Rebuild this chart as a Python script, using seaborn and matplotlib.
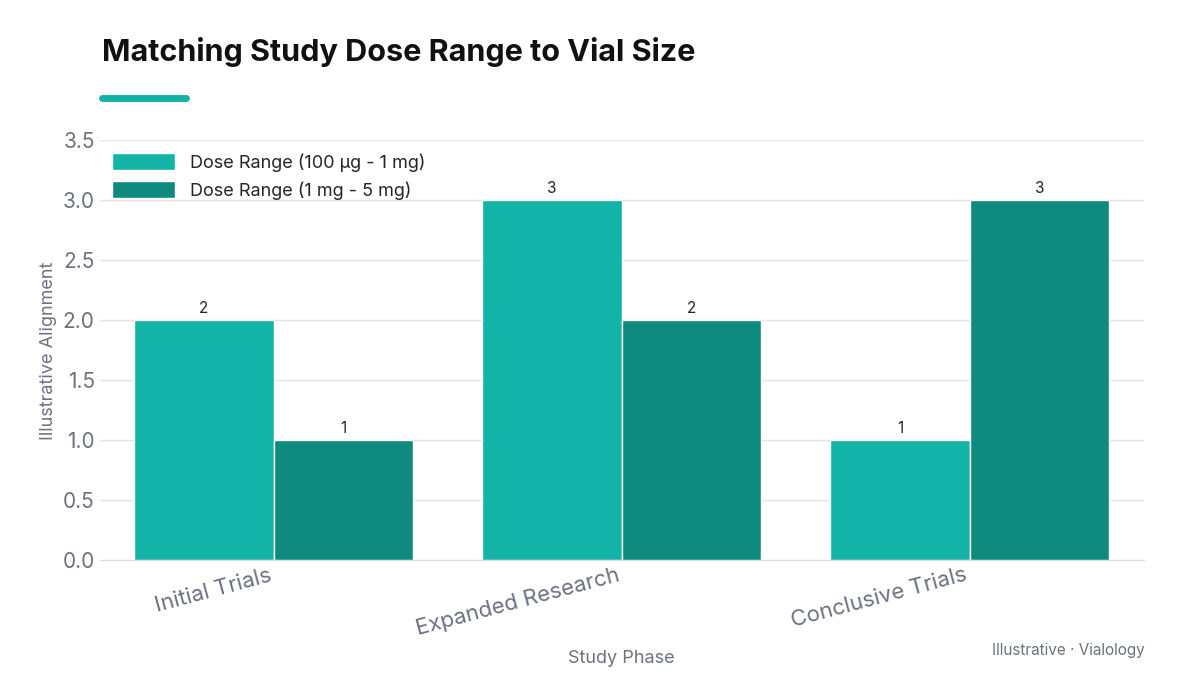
import matplotlib
matplotlib.use("Agg")
import matplotlib.pyplot as plt
import seaborn as sns
import pandas as pd

phases = ["Initial Trials", "Expanded Research", "Conclusive Trials"]
series_names = ["Dose Range (100 µg - 1 mg)", "Dose Range (1 mg - 5 mg)"]
low_dose = [2, 3, 1]
high_dose = [1, 2, 3]
colors = ["#14b3a7", "#0e8b7e"]

df = pd.DataFrame({
    "Study Phase": phases * 2,
    "value": low_dose + high_dose,
    "series": [series_names[0]] * 3 + [series_names[1]] * 3,
})

sns.set_style("white")
plt.rcParams["font.family"] = ["Inter", "DejaVu Sans"]

fig = plt.figure(figsize=(12, 6.75), dpi=100)
ax = fig.add_axes([0.083, 0.17, 0.87, 0.622])
sns.barplot(data=df, x="Study Phase", y="value", hue="series", palette=colors,
            width=0.8, saturation=1, ax=ax)
for c in ax.containers:
    ax.bar_label(c, fmt="%g", padding=3, fontsize=11, color="#222222")

ax.set_ylim(0, 3.5)
ax.set_yticks([0, 0.5, 1, 1.5, 2, 2.5, 3, 3.5])
ax.set_yticklabels([f"{v:.1f}" for v in ax.get_yticks()], fontsize=15, color="#6b7280")
ax.grid(axis="y", color="#e5e5e5", linewidth=1)
ax.set_axisbelow(True)
for s in ax.spines.values():
    s.set_visible(False)
ax.spines["bottom"].set_visible(True)
ax.spines["bottom"].set_color("#dddddd")
ax.tick_params(axis="both", length=0)
plt.setp(ax.get_xticklabels(), rotation=15, ha="right", fontsize=16, color="#6b7280")
ax.set_xlabel("Study Phase", fontsize=13, color="#6b7280", labelpad=8)
ax.set_ylabel("Illustrative Alignment", fontsize=13, color="#6b7280")
leg = ax.legend(loc="upper left", frameon=False, fontsize=13, handlelength=3.5,
                handleheight=1.1, borderaxespad=0.3)

fig.text(0.085, 0.91, "Matching Study Dose Range to Vial Size", fontsize=22,
         fontweight="bold", color="#111111")
fig.add_artist(plt.Line2D([0.085, 0.155], [0.855, 0.855], color="#14b3a7",
                          linewidth=5, solid_capstyle="round"))
fig.text(0.954, 0.03, "Illustrative · Vialology", fontsize=11, color="#6b7280", ha="right")

fig.savefig("out.png", dpi=100)
